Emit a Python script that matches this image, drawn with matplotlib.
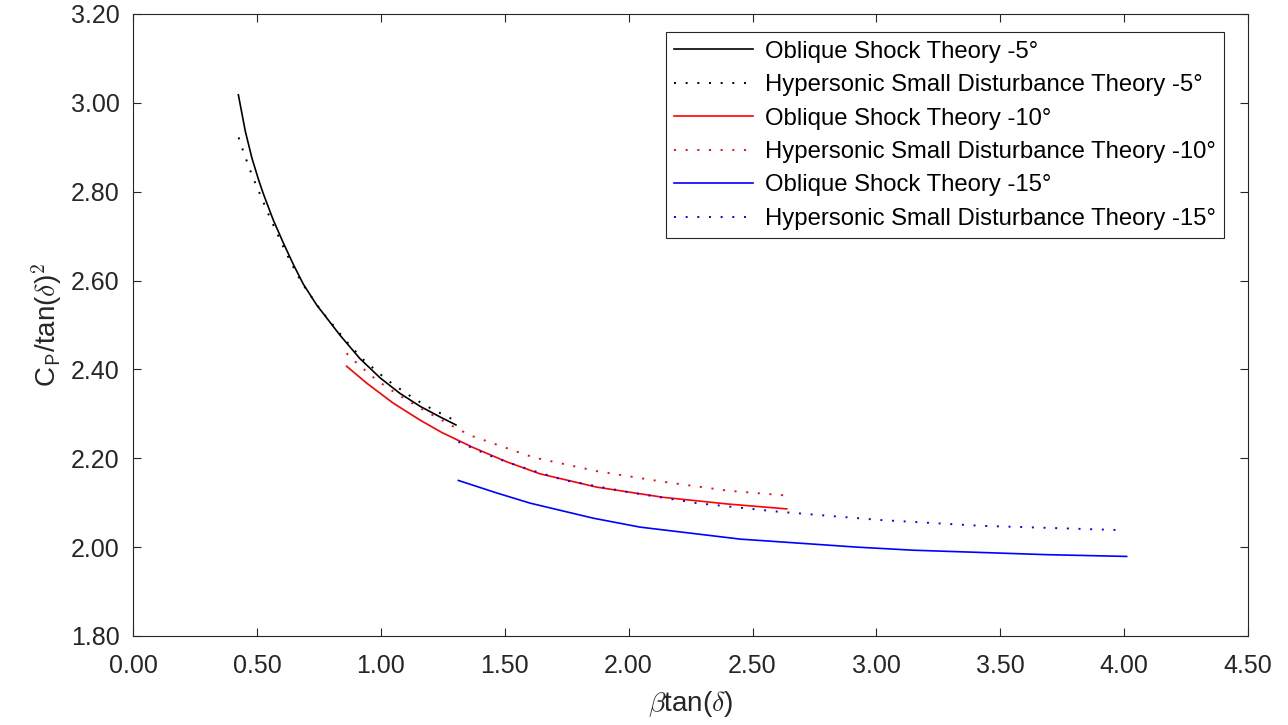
import matplotlib
matplotlib.use('Agg')
import matplotlib.pyplot as plt

plt.rcParams['font.family'] = ['Liberation Sans', 'DejaVu Sans']
plt.rcParams['mathtext.fontset'] = 'cm'

# values (x = beta*tan(delta), y = Cp/tan(delta)^2)
ost5_x = [0.425, 0.453, 0.480, 0.507, 0.526, 0.566, 0.607, 0.647, 0.687, 0.741, 0.795,
          0.835, 0.916, 0.997, 1.077, 1.158, 1.239, 1.303]
ost5_y = [3.018, 2.936, 2.875, 2.826, 2.795, 2.736, 2.684, 2.636, 2.592, 2.545, 2.506,
          2.477, 2.424, 2.381, 2.346, 2.317, 2.293, 2.275]

hsdt5_x = [0.426, 0.447, 0.480, 0.518, 0.546, 0.566, 0.593, 0.613, 0.634, 0.661, 0.687,
           0.755, 0.855, 0.923, 1.021, 1.102, 1.182, 1.266, 1.299]
hsdt5_y = [2.922, 2.887, 2.837, 2.787, 2.750, 2.725, 2.692, 2.668, 2.644, 2.615, 2.590,
           2.535, 2.467, 2.425, 2.378, 2.346, 2.318, 2.294, 2.285]

ost10_x = [0.862, 0.943, 1.050, 1.158, 1.246, 1.373, 1.508, 1.642, 1.871, 2.140, 2.400, 2.638]
ost10_y = [2.407, 2.369, 2.324, 2.286, 2.258, 2.224, 2.192, 2.165, 2.135, 2.112, 2.097, 2.086]

hsdt10_x = [0.862, 0.909, 0.983, 1.064, 1.171, 1.313, 1.373, 1.615, 1.871, 2.140, 2.400, 2.638]
hsdt10_y = [2.436, 2.411, 2.376, 2.345, 2.309, 2.265, 2.249, 2.202, 2.171, 2.147, 2.127, 2.116]

ost15_x = [1.313, 1.467, 1.602, 1.858, 2.046, 2.450, 2.920, 3.149, 3.687, 4.010]
ost15_y = [2.150, 2.122, 2.099, 2.065, 2.045, 2.018, 2.000, 1.993, 1.983, 1.979]

hsdt15_x = [1.313, 1.434, 1.521, 1.615, 1.737, 2.006, 2.275, 2.598, 3.015, 3.418, 4.000]
hsdt15_y = [2.237, 2.207, 2.189, 2.172, 2.151, 2.123, 2.099, 2.080, 2.061, 2.048, 2.038]

labels = ['Oblique Shock Theory -5°', 'Hypersonic Small Disturbance Theory -5°',
          'Oblique Shock Theory -10°', 'Hypersonic Small Disturbance Theory -10°',
          'Oblique Shock Theory -15°', 'Hypersonic Small Disturbance Theory -15°']

xticks = [0, 0.5, 1.0, 1.5, 2.0, 2.5, 3.0, 3.5, 4.0, 4.5]
yticks = [1.8, 2.0, 2.2, 2.4, 2.6, 2.8, 3.0, 3.2]

axcol = '#262626'
dots = (0, (1, 5))

fig = plt.figure(figsize=(12.88, 7.25), dpi=100)
ax = fig.add_axes([0.1033, 0.1228, 0.8657, 0.858])

ax.plot(ost5_x, ost5_y, color='black', lw=1.2, label=labels[0])
ax.plot(hsdt5_x, hsdt5_y, color='black', lw=1.4, linestyle=dots, label=labels[1])
ax.plot(ost10_x, ost10_y, color='red', lw=1.2, label=labels[2])
ax.plot(hsdt10_x, hsdt10_y, color='red', lw=1.4, linestyle=dots, label=labels[3])
ax.plot(ost15_x, ost15_y, color='blue', lw=1.2, label=labels[4])
ax.plot(hsdt15_x, hsdt15_y, color='blue', lw=1.4, linestyle=dots, label=labels[5])

ax.set_xlim(0, 4.5)
ax.set_ylim(1.8, 3.2)
ax.set_xticks(xticks)
ax.set_yticks(yticks)
ax.set_xticklabels(['%.2f' % v for v in xticks])
ax.set_yticklabels(['%.2f' % v for v in yticks])
ax.tick_params(direction='in', top=True, right=True, length=6, width=0.8,
               colors=axcol, labelsize=18)
ax.tick_params(axis='x', pad=13)
ax.tick_params(axis='y', pad=9.5)
for s in ax.spines.values():
    s.set_color(axcol)
    s.set_linewidth(0.8)

ax.set_xlabel(r'$\beta$tan($\delta$)', fontsize=20, color=axcol, labelpad=8)
ax.set_ylabel(r'C$_{\mathsf{P}}$/tan($\delta$)$^2$', fontsize=20, color=axcol, labelpad=5)

leg = ax.legend(loc='upper right', bbox_to_anchor=(0.9785, 0.9705), fontsize=17.2,
                handlelength=3.3, labelspacing=0.48, borderpad=0.35, handletextpad=0.5,
                fancybox=False, framealpha=1, borderaxespad=0)
leg.get_frame().set_edgecolor(axcol)
leg.get_frame().set_linewidth(0.8)

fig.savefig('out.png', dpi=100)
